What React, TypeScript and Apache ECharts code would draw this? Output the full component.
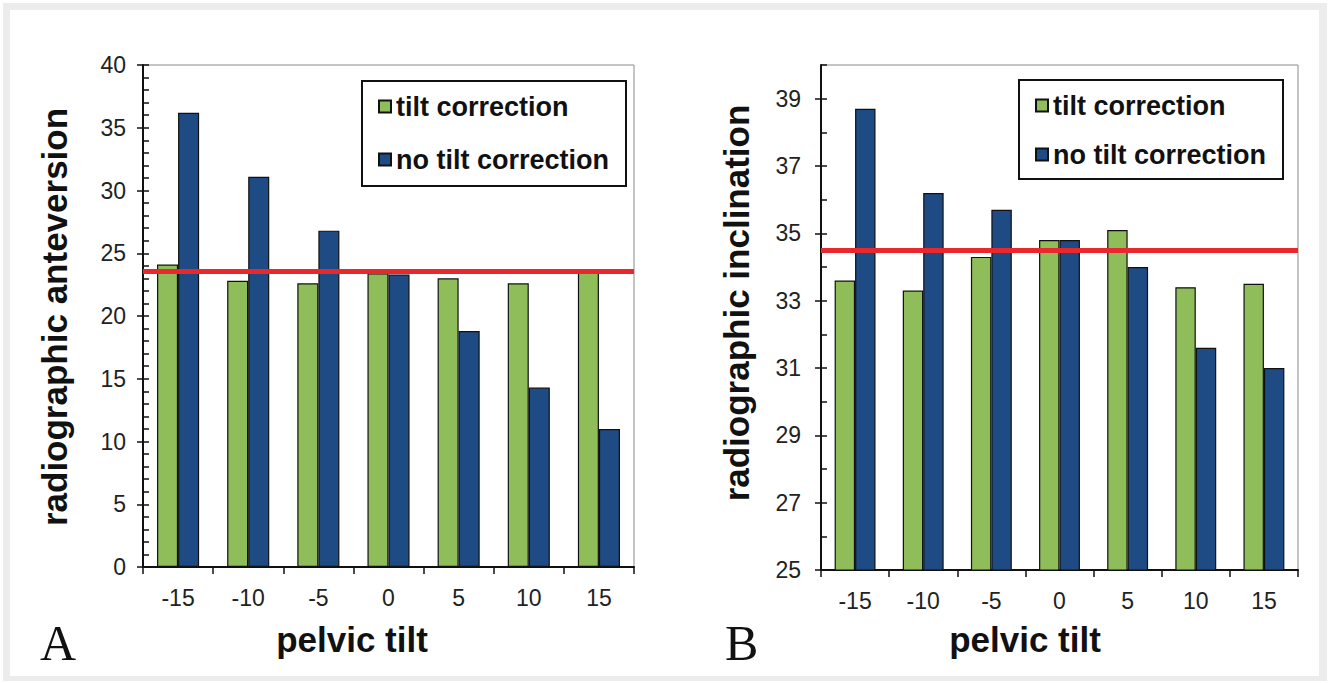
import React, { useEffect, useRef } from 'react';
import * as echarts from 'echarts';

// ---- data ----
const categories = ['-15', '-10', '-5', '0', '5', '10', '15'];
const seriesNames = ['tilt correction', 'no tilt correction'];

// Panel A: radiographic anteversion
const anteTilt = [24.1, 22.8, 22.6, 23.4, 23.0, 22.6, 23.5];
const anteNoTilt = [36.2, 31.1, 26.8, 23.3, 18.8, 14.3, 11.0];
const anteReference = 23.6;

// Panel B: radiographic inclination
const inclTilt = [33.6, 33.3, 34.3, 34.8, 35.1, 33.4, 33.5];
const inclNoTilt = [38.7, 36.2, 35.7, 34.8, 34.0, 31.6, 31.0];
const inclReference = 34.5;
const inclTickLabels = [25, 27, 29, 31, 33, 35, 37, 39];

export default function App() {
  const ref = useRef<HTMLDivElement>(null);

  useEffect(() => {
    if (!ref.current) return;
    const chart = echarts.init(ref.current, null, { renderer: 'svg' });
    const font = "'Liberation Sans', Arial, sans-serif";
    const green = '#8fbd5a';
    const blue = '#1f4b85';
    const red = '#e8282d';
    const ink = '#111';

    const barItem = (c: string) => ({ color: c, borderColor: ink, borderWidth: 1.2 });

    const xAxisFor = (gi: number) => ({
      type: 'category',
      gridIndex: gi,
      data: categories,
      axisLine: { lineStyle: { color: ink, width: 2 } },
      axisTick: { show: true, length: 7, lineStyle: { color: ink, width: 1.5 } },
      axisLabel: { margin: 19, fontSize: 23, fontFamily: font, color: '#222' },
      splitLine: { show: false },
    });

    const mainY = (gi: number, min: number, max: number, interval: number, margin: number, custom?: number[]) => ({
      type: 'value',
      gridIndex: gi,
      position: 'left',
      min,
      max,
      interval,
      axisLine: { show: true, lineStyle: { color: ink, width: 2 } },
      axisTick: custom
        ? { show: true, length: 6, customValues: custom, lineStyle: { color: ink, width: 1.5 } }
        : { show: true, length: 6, lineStyle: { color: ink, width: 1.5 } },
      axisLabel: custom
        ? { margin, fontSize: 23, fontFamily: font, color: '#222', customValues: custom }
        : { margin, fontSize: 23, fontFamily: font, color: '#222' },
      splitLine: { show: false },
    });

    const minorY = (gi: number, min: number, max: number) => ({
      type: 'value',
      gridIndex: gi,
      position: 'left',
      offset: 0,
      min,
      max,
      interval: 1,
      axisLine: { show: false },
      axisTick: { show: true, inside: true, length: 6, lineStyle: { color: ink, width: 1.5 } },
      axisLabel: { show: false },
      splitLine: { show: false },
    });

    const refLine = (v: number) => ({
      silent: true,
      symbol: ['none', 'none'],
      label: { show: false },
      lineStyle: { color: red, width: 5, type: 'solid', opacity: 1 },
      data: [{ yAxis: v }],
    });

    const legendFor = (left: number, top: number, gap: number, pad: number[]) => ({
      orient: 'vertical',
      left,
      top,
      data: seriesNames,
      icon: 'rect',
      itemWidth: 12,
      itemHeight: 12,
      itemGap: gap,
      itemTextGap: 6,
      padding: pad,
      borderColor: ink,
      borderWidth: 2,
      backgroundColor: '#fff',
      selectedMode: false,
      textStyle: { fontFamily: font, fontWeight: 'bold', fontSize: 27, color: ink },
    });

    const titleStyle = { fontFamily: font, fontWeight: 'bold', fontSize: 35, fill: ink };

    chart.setOption({
      animation: false,
      backgroundColor: '#fff',
      grid: [
        { left: 143, top: 65, width: 491, height: 502, show: true, borderColor: '#8a8a8a', borderWidth: 1, containLabel: false },
        { left: 821, top: 65, width: 477, height: 505, show: true, borderColor: '#8a8a8a', borderWidth: 1, containLabel: false },
      ],
      xAxis: [xAxisFor(0), xAxisFor(1)],
      yAxis: [
        mainY(0, 0, 40, 5, 17),
        minorY(0, 0, 40),
        mainY(1, 25, 40, 1, 20, inclTickLabels),
        minorY(1, 25, 40),
      ],
      legend: [
        legendFor(362, 81, 26, [12, 17, 13, 16]),
        legendFor(1019, 80, 22, [12, 17, 11, 16]),
      ],
      series: [
        { name: seriesNames[0], type: 'bar', xAxisIndex: 0, yAxisIndex: 0, data: anteTilt, itemStyle: barItem(green), barGap: '0%', barCategoryGap: '40%' },
        { name: seriesNames[1], type: 'bar', xAxisIndex: 0, yAxisIndex: 0, data: anteNoTilt, itemStyle: barItem(blue), barGap: '0%', barCategoryGap: '40%', markLine: refLine(anteReference) },
        { name: seriesNames[0], type: 'bar', xAxisIndex: 1, yAxisIndex: 2, data: inclTilt, itemStyle: barItem(green), barGap: '0%', barCategoryGap: '40%' },
        { name: seriesNames[1], type: 'bar', xAxisIndex: 1, yAxisIndex: 2, data: inclNoTilt, itemStyle: barItem(blue), barGap: '0%', barCategoryGap: '40%', markLine: refLine(inclReference) },
      ],
      graphic: [
        { type: 'rect', z: -10, silent: true, shape: { x: 3, y: 3, width: 1324, height: 678 }, style: { fill: '#ececec' } },
        { type: 'rect', z: -9, silent: true, shape: { x: 10, y: 10, width: 1309, height: 666 }, style: { fill: '#ffffff' } },
        { type: 'text', z: 10, x: 54, y: 317, rotation: Math.PI / 2, style: { text: 'radiographic anteversion', align: 'center', verticalAlign: 'middle', ...titleStyle } },
        { type: 'text', z: 10, x: 736, y: 303, rotation: Math.PI / 2, style: { text: 'radiographic inclination', align: 'center', verticalAlign: 'middle', ...titleStyle } },
        { type: 'text', z: 10, x: 352, y: 639, style: { text: 'pelvic tilt', align: 'center', verticalAlign: 'middle', ...titleStyle } },
        { type: 'text', z: 10, x: 1025, y: 639, style: { text: 'pelvic tilt', align: 'center', verticalAlign: 'middle', ...titleStyle } },
        { type: 'text', z: 10, x: 40, y: 643, style: { text: 'A', align: 'left', verticalAlign: 'middle', fontFamily: "'Liberation Serif', 'Times New Roman', serif", fontSize: 50, fill: ink } },
        { type: 'text', z: 10, x: 725, y: 643, style: { text: 'B', align: 'left', verticalAlign: 'middle', fontFamily: "'Liberation Serif', 'Times New Roman', serif", fontSize: 50, fill: ink } },
      ],
    });

    return () => {
      chart.dispose();
    };
  }, []);

  return (
    <div
      ref={ref}
      style={{ position: 'absolute', left: 0, top: 0, width: 1330, height: 683 }}
    />
  );
}
